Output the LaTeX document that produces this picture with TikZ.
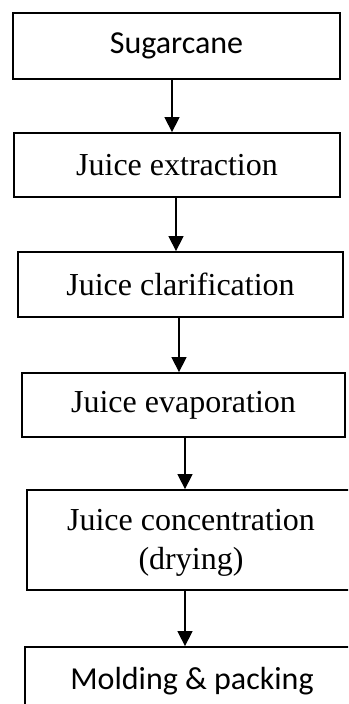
\documentclass[tikz,border=0pt]{standalone}
\usepackage{fontspec}
\setmainfont{Liberation Serif}
\newfontfamily\calib{Carlito}
\usetikzlibrary{arrows.meta}
\begin{document}
\begin{tikzpicture}[x=1pt,y=-1pt,
  flowbox/.style={draw=black,line width=1.8pt,inner sep=0pt,font=\fontsize{32}{39}\selectfont,align=center},
  arr/.style={line width=1.4pt,-{Triangle[width=15pt,length=15pt]}}]
\useasboundingbox (0,0) rectangle (348,704);
\clip (0,0) rectangle (348,704);
\node[flowbox,minimum width=327pt,minimum height=66pt,font=\calib\fontsize{32}{39}\selectfont] (b1) at (176.5,46) {Sugarcane};
\node[flowbox,minimum width=326pt,minimum height=64pt] (b2) at (177,165) {Juice extraction};
\node[flowbox,minimum width=325pt,minimum height=65pt] (b3) at (180.5,284.5) {Juice clarification};
\node[flowbox,minimum width=323pt,minimum height=64pt] (b4) at (183.5,405) {Juice evaporation};
\node[flowbox,minimum width=328pt,minimum height=100pt] (b5) at (191,540) {};
\node[inner sep=0pt,font=\fontsize{32}{39}\selectfont,align=center] (t5) at (191,543) {Juice concentration\\(drying)};
\node[flowbox,minimum width=334pt,minimum height=68pt,font=\calib\fontsize{32}{39}\selectfont] (b6) at (192,681) {Molding \& packing};
\coordinate (x1) at (172,0);
\coordinate (x2) at (176,0);
\coordinate (x3) at (179,0);
\coordinate (x4) at (185,0);
\coordinate (x5) at (185,0);
\draw[arr] (x1 |- b1.south) -- (x1 |- b2.north);
\draw[arr] (x2 |- b2.south) -- (x2 |- b3.north);
\draw[arr] (x3 |- b3.south) -- (x3 |- b4.north);
\draw[arr] (x4 |- b4.south) -- (x4 |- b5.north);
\draw[arr] (x5 |- b5.south) -- (x5 |- b6.north);
\end{tikzpicture}
\end{document}
